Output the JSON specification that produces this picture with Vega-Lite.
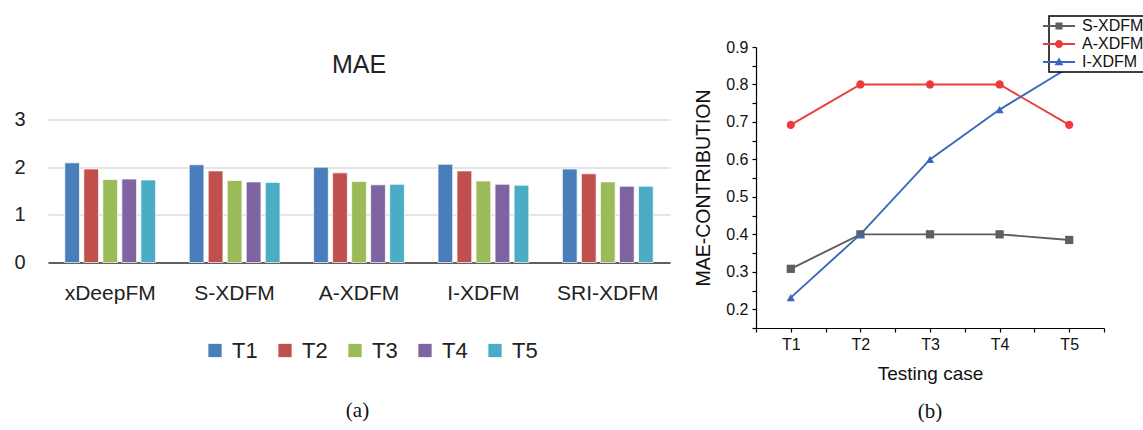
{
  "$schema": "https://vega.github.io/schema/vega-lite/v6.json",
  "background": "white",
  "padding": {"left": 13, "top": 15, "right": 0, "bottom": 0},
  "autosize": {"type": "pad"},
  "spacing": 86,
  "bounds": "flush",
  "center": true,
  "config": {
    "view": {"stroke": null},
    "font": "Liberation Sans"
  },
  "datasets": {
    "mae": [
      {"model": "xDeepFM", "case": "T1", "mae": 2.09},
      {"model": "xDeepFM", "case": "T2", "mae": 1.96},
      {"model": "xDeepFM", "case": "T3", "mae": 1.74},
      {"model": "xDeepFM", "case": "T4", "mae": 1.75},
      {"model": "xDeepFM", "case": "T5", "mae": 1.73},
      {"model": "S-XDFM", "case": "T1", "mae": 2.05},
      {"model": "S-XDFM", "case": "T2", "mae": 1.92},
      {"model": "S-XDFM", "case": "T3", "mae": 1.72},
      {"model": "S-XDFM", "case": "T4", "mae": 1.69},
      {"model": "S-XDFM", "case": "T5", "mae": 1.68},
      {"model": "A-XDFM", "case": "T1", "mae": 2.0},
      {"model": "A-XDFM", "case": "T2", "mae": 1.88},
      {"model": "A-XDFM", "case": "T3", "mae": 1.7},
      {"model": "A-XDFM", "case": "T4", "mae": 1.63},
      {"model": "A-XDFM", "case": "T5", "mae": 1.64},
      {"model": "I-XDFM", "case": "T1", "mae": 2.06},
      {"model": "I-XDFM", "case": "T2", "mae": 1.92},
      {"model": "I-XDFM", "case": "T3", "mae": 1.71},
      {"model": "I-XDFM", "case": "T4", "mae": 1.64},
      {"model": "I-XDFM", "case": "T5", "mae": 1.62},
      {"model": "SRI-XDFM", "case": "T1", "mae": 1.96},
      {"model": "SRI-XDFM", "case": "T2", "mae": 1.86},
      {"model": "SRI-XDFM", "case": "T3", "mae": 1.69},
      {"model": "SRI-XDFM", "case": "T4", "mae": 1.6},
      {"model": "SRI-XDFM", "case": "T5", "mae": 1.6}
    ],
    "contrib": [
      {"model": "S-XDFM", "case": "T1", "idx": 1, "value": 0.308},
      {"model": "S-XDFM", "case": "T2", "idx": 2, "value": 0.4},
      {"model": "S-XDFM", "case": "T3", "idx": 3, "value": 0.4},
      {"model": "S-XDFM", "case": "T4", "idx": 4, "value": 0.4},
      {"model": "S-XDFM", "case": "T5", "idx": 5, "value": 0.385},
      {"model": "A-XDFM", "case": "T1", "idx": 1, "value": 0.692},
      {"model": "A-XDFM", "case": "T2", "idx": 2, "value": 0.8},
      {"model": "A-XDFM", "case": "T3", "idx": 3, "value": 0.8},
      {"model": "A-XDFM", "case": "T4", "idx": 4, "value": 0.8},
      {"model": "A-XDFM", "case": "T5", "idx": 5, "value": 0.692},
      {"model": "I-XDFM", "case": "T1", "idx": 1, "value": 0.231},
      {"model": "I-XDFM", "case": "T2", "idx": 2, "value": 0.4},
      {"model": "I-XDFM", "case": "T3", "idx": 3, "value": 0.6},
      {"model": "I-XDFM", "case": "T4", "idx": 4, "value": 0.733},
      {"model": "I-XDFM", "case": "T5", "idx": 5, "value": 0.846}
    ]
  },
  "resolve": {"scale": {"color": "independent", "x": "independent", "y": "independent"}, "legend": {"color": "independent"}},
  "hconcat": [
    {
      "width": 622,
      "height": 150,
      "title": {"text": "MAE", "fontSize": 25, "fontWeight": "normal", "color": "#222", "offset": 31, "anchor": "middle"},
      "data": {"name": "mae"},
      "mark": {"type": "bar", "stroke": "#ffffff", "strokeWidth": 1, "strokeOpacity": 0.7},
      "encoding": {
        "x": {
          "field": "model", "type": "nominal",
          "sort": ["xDeepFM", "S-XDFM", "A-XDFM", "I-XDFM", "SRI-XDFM"],
          "scale": {"paddingInner": 0.27, "paddingOuter": 0.135},
          "axis": {
            "labelAngle": 0, "labelFontSize": 21, "labelColor": "#222", "labelPadding": 20,
            "ticks": false, "domain": true, "domainColor": "#333", "domainWidth": 1.5,
            "title": "(a)", "titleFont": "Liberation Serif", "titleFontSize": 21, "titleFontWeight": "normal",
            "titleColor": "#111", "titleX": 309, "titleY": 148, "titleBaseline": "middle", "titleAlign": "center"
          }
        },
        "xOffset": {"field": "case", "type": "nominal", "scale": {"paddingInner": 0.226}},
        "y": {
          "field": "mae", "type": "quantitative",
          "scale": {"domain": [0, 3.146], "nice": false},
          "axis": {
            "values": [0, 1, 2, 3], "title": null, "domain": false, "ticks": false,
            "labelFontSize": 20, "labelColor": "#222", "labelPadding": 23,
            "gridColor": "#dcdcdc", "gridWidth": 1.5
          }
        },
        "color": {
          "field": "case", "type": "nominal",
          "scale": {"domain": ["T1", "T2", "T3", "T4", "T5"], "range": ["#4a7ebb", "#c0504d", "#9bbb59", "#8064a2", "#4bacc6"]},
          "legend": {
            "orient": "none", "legendX": 156, "legendY": 227, "direction": "horizontal", "title": null,
            "symbolType": "square", "symbolSize": 177, "symbolStrokeWidth": 0,
            "labelFontSize": 22, "labelOffset": 6, "columnPadding": 16, "labelColor": "#222", "padding": 0
          }
        }
      }
    },
    {
      "width": 348,
      "height": 281,
      "title": {"text": "(b)", "orient": "bottom", "font": "Liberation Serif", "fontSize": 21, "fontWeight": "normal", "color": "#111", "offset": 18},
      "data": {"name": "contrib"},
      "encoding": {
        "x": {
          "field": "idx", "type": "quantitative",
          "scale": {"domain": [0.5, 5.5], "nice": false, "zero": false},
          "axis": {
            "title": "Testing case", "titleFontSize": 19, "titleFontWeight": "normal", "titleColor": "#111", "titlePadding": 12,
            "values": [0.5, 1, 1.5, 2, 2.5, 3, 3.5, 4, 4.5, 5, 5.5],
            "labelExpr": "datum.value == round(datum.value) ? 'T' + datum.value : ''",
            "labelFontSize": 16, "labelColor": "#111", "labelPadding": 4, "labelOverlap": false, "labelFlush": false,
            "grid": false, "domainColor": "#000", "domainWidth": 1.2,
            "tickColor": "#000", "tickWidth": 1.2, "tickSize": 4,
            "encode": {"ticks": {"update": {"y2": {"signal": "datum.value == round(datum.value) ? 4 : 2.5"}}}}
          }
        },
        "y": {
          "field": "value", "type": "quantitative",
          "scale": {"domain": [0.15, 0.9], "nice": false, "zero": false},
          "axis": {
            "title": "MAE-CONTRIBUTION", "titleFontSize": 19.5, "titleFontWeight": "normal", "titleColor": "#111", "titlePadding": 12,
            "values": [0.15, 0.2, 0.25, 0.3, 0.35, 0.4, 0.45, 0.5, 0.55, 0.6, 0.65, 0.7, 0.75, 0.8, 0.85, 0.9],
            "labelExpr": "abs(datum.value * 10 - round(datum.value * 10)) < 0.001 ? format(datum.value, '.1f') : ''",
            "labelFontSize": 16, "labelColor": "#111", "labelPadding": 4, "labelOverlap": false, "labelFlush": false,
            "grid": false, "domainColor": "#000", "domainWidth": 1.2,
            "tickColor": "#000", "tickWidth": 1.2, "tickSize": 4,
            "encode": {"ticks": {"update": {"x2": {"signal": "abs(datum.value * 10 - round(datum.value * 10)) < 0.001 ? -4 : -2.5"}}}}
          }
        },
        "color": {
          "field": "model", "type": "nominal",
          "scale": {"domain": ["S-XDFM", "A-XDFM", "I-XDFM"], "range": ["#5e5e5e", "#ee3a3a", "#3a67bd"]},
          "legend": {
            "orient": "none", "legendX": 293, "legendY": -31, "title": null,
            "fillColor": "#ffffff", "strokeColor": "#000000", "padding": 2,
            "symbolSize": 256, "symbolStrokeWidth": 0, "labelFontSize": 16, "labelOffset": 15, "rowPadding": 2, "labelColor": "#111",
            "encode": {
              "legend": {"update": {"strokeWidth": {"value": 1.5}}},
              "symbols": {"update": {
                "shape": {"signal": "datum.value === 'S-XDFM' ? 'M-2,-0.11H2V0.11H-2Z M-0.44,-0.44H0.44V0.44H-0.44Z' : datum.value === 'A-XDFM' ? 'M-2,-0.11H2V0.11H-2Z M0.5,0A0.5,0.5 0 1,1 -0.5,0A0.5,0.5 0 1,1 0.5,0Z' : 'M-2,-0.11H2V0.11H-2Z M0,-0.55L0.56,0.42L-0.56,0.42Z'"},
                "fill": {"signal": "datum.value === 'S-XDFM' ? '#5e5e5e' : datum.value === 'A-XDFM' ? '#ee3a3a' : '#3a67bd'"},
                "fillOpacity": {"value": 1},
                "strokeWidth": {"value": 0}
              }}
            }
          }
        }
      },
      "layer": [
        {"mark": {"type": "line", "strokeWidth": 1.9}},
        {
          "mark": {"type": "point", "filled": true, "size": 68, "opacity": 1},
          "encoding": {
            "shape": {
              "field": "model", "type": "nominal",
              "scale": {"domain": ["S-XDFM", "A-XDFM", "I-XDFM"], "range": ["square", "circle", "triangle-up"]},
              "legend": null
            }
          }
        }
      ]
    }
  ]
}
